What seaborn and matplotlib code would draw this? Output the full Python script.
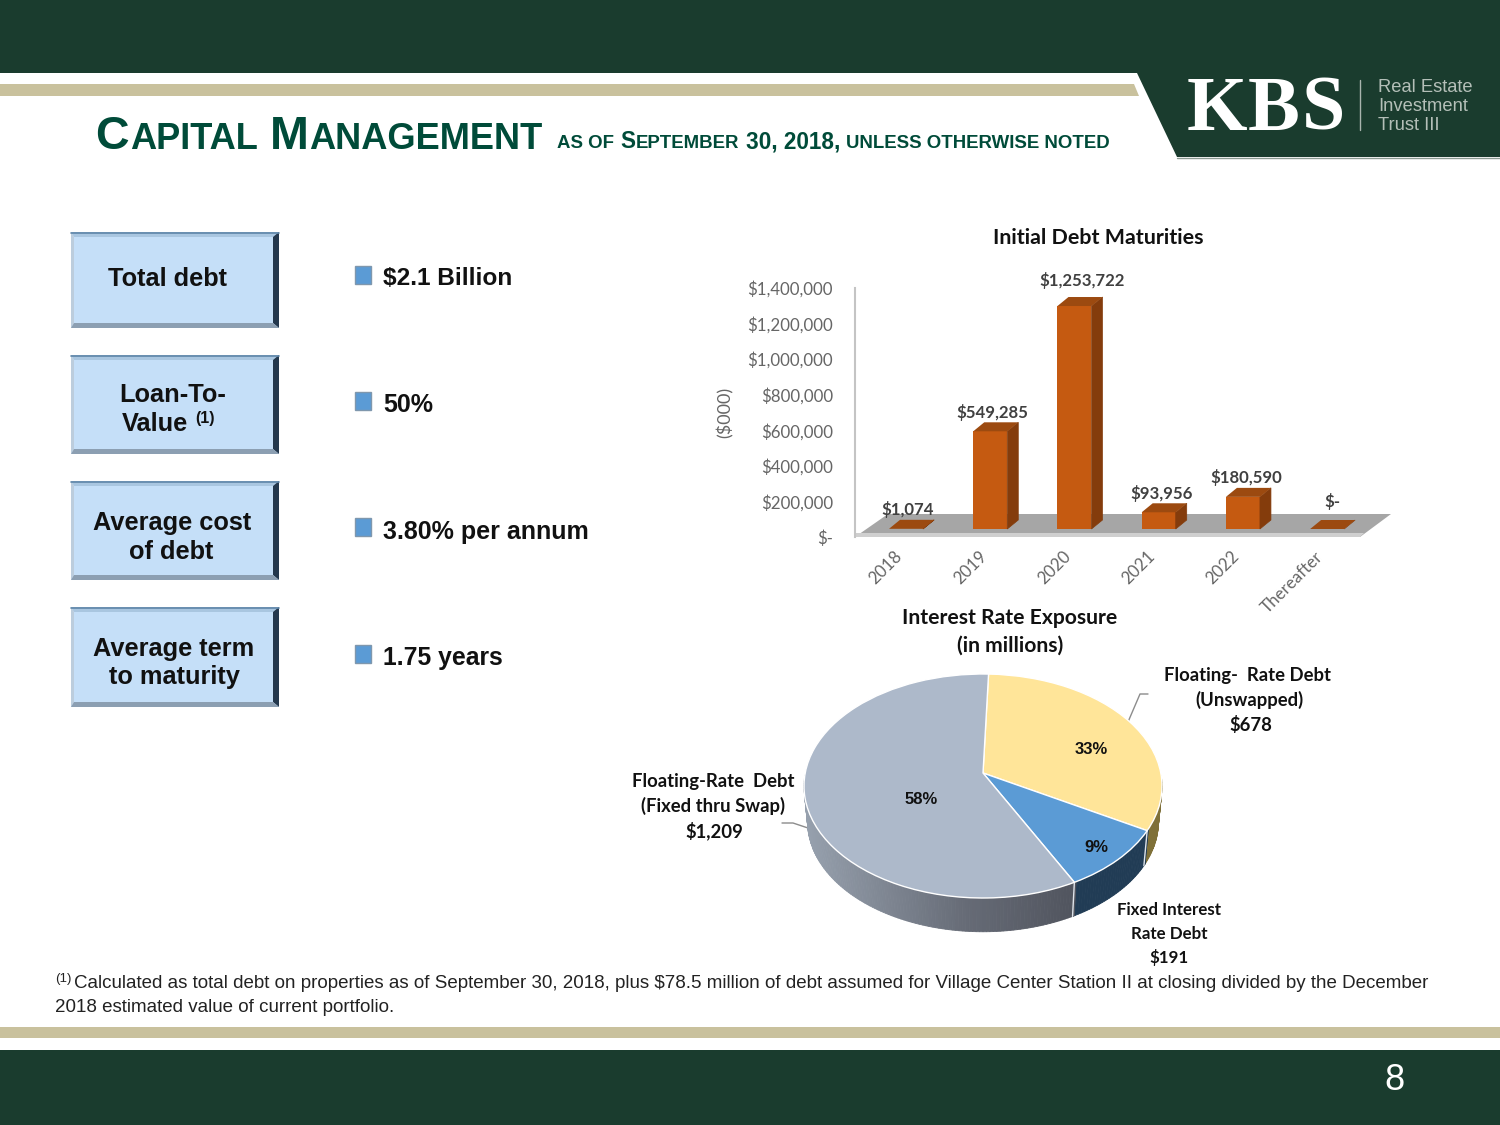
import numpy as np
import pandas as pd
import matplotlib
matplotlib.use('Agg')
import matplotlib.pyplot as plt
from matplotlib.patches import Polygon, Rectangle
from matplotlib.transforms import Transform, ScaledTranslation
import seaborn as sns

# Datos de los graficos
years = ['2018', '2019', '2020', '2021', '2022', 'Thereafter']
maturities = [1074, 549285, 1253722, 93956, 180590, 0]
y_ticks = [0, 200000, 400000, 600000, 800000, 1000000, 1200000, 1400000]
exposure_names = ['Floating-Rate Debt (Unswapped)', 'Fixed Interest Rate Debt', 'Floating-Rate Debt (Fixed thru Swap)']
exposure_values = [678, 191, 1209]

box_labels = [['Total debt'], ['Loan-To-', 'Value'], ['Average cost', 'of debt'], ['Average term', 'to maturity']]
bullet_labels = ['$2.1 Billion', '50%', '3.80% per annum', '1.75 years']

GREEN = '#1a3c2e'
TAN = '#c9c19d'
TITLE = '#004b39'
SANS = 'Liberation Sans'
CAL = 'Lato'

sns.set_theme(style='white')
plt.rcParams['font.family'] = [SANS, 'DejaVu Sans']

fig = plt.figure(figsize=(15, 11.25), dpi=100, facecolor='white')


def px_axes(left, top, right, bottom):
    a = fig.add_axes([left / 1500, 1 - bottom / 1125, (right - left) / 1500, (bottom - top) / 1125])
    a.patch.set_visible(False)
    return a


bg = px_axes(0, 0, 1500, 1125)
bg.set_xlim(0, 1500)
bg.set_ylim(1125, 0)
bg.axis('off')

# Cabecera y pie de pagina
bg.add_patch(Rectangle((0, 0), 1500, 73, color=GREEN, lw=0))
bg.add_patch(Polygon([(0, 84), (1134, 84), (1139, 96), (0, 96)], color=TAN, lw=0))
bg.add_patch(Polygon([(1137, 73), (1500, 73), (1500, 157), (1177, 157)], color=GREEN, lw=0))
bg.plot([1177, 1500], [157.5, 157.5], color='#8b9a92', lw=1)
bg.add_patch(Rectangle((0, 1027), 1500, 11, color=TAN, lw=0))
bg.add_patch(Rectangle((0, 1050), 1500, 75, color=GREEN, lw=0))
bg.text(1394, 1081, '8', color='white', fontsize=26, ha='center', va='center')


# Texto por tramos (versalitas y logo)
def runs_text(runs, x, base, color, **kw):
    rend = fig.canvas.get_renderer()
    for txt, size, gap in runs:
        t = bg.text(x, base, txt, color=color, fontsize=size, va='baseline', **kw)
        x += t.get_window_extent(rend).width + gap


# Logo
runs_text([('K', 56, 0), ('B', 56, 2), ('S', 56, 0)], 1187, 130, 'white', family='Liberation Serif', weight='bold')
bg.plot([1360, 1360], [80, 130], color='#a9b5ae', lw=1)
for txt, yy in zip(['Real Estate', 'Investment', 'Trust III'], [87, 106.5, 126]):
    bg.text(1378, yy, txt, color='#b4bfb8', fontsize=13.2, va='center')

# Titulo con versalitas
B, S = 33.6, 26.1
runs_text([('C', B, 1), ('APITAL', S, 12), ('M', B, 1), ('ANAGEMENT', S, 0)], 95, 149, TITLE, weight='bold')
b, s = 16.3, 13.4
runs_text([('AS OF', s, 6), ('S', b, 1), ('EPTEMBER', s, 6), ('30, 2018,', b, 6),
           ('UNLESS OTHERWISE NOTED', s, 0)], 557, 148, TITLE, weight='bold')

# Cajas de la izquierda
box_tops = [232, 355, 481, 607]
box_bottoms = [328, 454, 580, 707]
label_pos = [[(168, 279)], [(173, 395), (155, 424)], [(172, 523), (171, 552)], [(174, 649), (174, 677)]]
bullet_y = [275, 401, 527, 654]
text_y = [278.5, 405.5, 532.5, 658.5]
bullet_sizes = [17.6, 18, 18, 17.8]
L, R = 71, 279
for top, bot, lines, pos in zip(box_tops, box_bottoms, box_labels, label_pos):
    bg.add_patch(Rectangle((L, top), R - L, bot - top, color='#c5dff8', lw=0))
    bg.add_patch(Polygon([(L, top), (R, top), (R - 6, top + 5), (L + 3, top + 5)], color='#a9c6e0', lw=0))
    bg.plot([L, R], [top + 0.5, top + 0.5], color='#5f86a8', lw=1.2)
    bg.add_patch(Polygon([(L, top), (L + 3, top + 5), (L + 3, bot - 5), (L, bot)], color='#bccddd', lw=0))
    bg.add_patch(Polygon([(R, top), (R, bot), (R - 6, bot - 5), (R - 6, top + 5)], color='#24384d', lw=0))
    bg.add_patch(Polygon([(L, bot), (R, bot), (R - 6, bot - 5), (L + 3, bot - 5)], color='#8c9fb2', lw=0))
    for line, (x, y) in zip(lines, pos):
        bg.text(x, y, line, weight='bold', color='#111111', fontsize=18.3, ha='center', va='center')
bg.text(205, 419, '(1)', weight='bold', color='#111111', fontsize=11.5, ha='center', va='center')

for label, by, ty, fs in zip(bullet_labels, bullet_y, text_y, bullet_sizes):
    bg.add_patch(Rectangle((355, by - 9), 16, 18, facecolor='#5b9bd5', edgecolor='#7f97ad', lw=1))
    bg.text(383, ty, label, weight='bold', color='#111111', fontsize=fs, va='center')

# Grafico de barras: suelo y pared
bg.add_patch(Polygon([(855, 537), (1360, 537), (1391, 514), (888, 514)], color='#a6a6a6', lw=0))
bg.add_patch(Polygon([(855, 533), (1364, 533), (1360, 537), (855, 537)], color='#cfcfcf', lw=0))

scale_ax = px_axes(855, 288, 1360, 537)
scale_ax.set_ylim(0, 1400000)
scale_ax.set_xticks([])
scale_ax.set_yticks(y_ticks)
scale_ax.set_yticklabels(['$-' if v == 0 else f'${v:,.0f}' for v in y_ticks], family=CAL, fontsize=12.2, color='#666666')
scale_ax.tick_params(axis='y', length=0, pad=16)
scale_ax.set_ylabel('($000)', family=CAL, fontsize=13, color='#666666', labelpad=9.5)
sns.despine(ax=scale_ax, bottom=True)
scale_ax.spines['left'].set_color('#c4c4c4')
scale_ax.spines['left'].set_linewidth(1.5)

ax = px_axes(855, 280, 1360, 529)
df = pd.DataFrame({'year': years, 'debt': maturities})
sns.barplot(data=df, x='year', y='debt', color='#c55a11', saturation=1, width=0.404, linewidth=0, ax=ax)
ax.set_xlim(-0.606, 5.39)
ax.set_ylim(0, 1400000)
ax.set_xlabel('')
ax.set_ylabel('')
ax.set_yticks([])
sns.despine(ax=ax, left=True, bottom=True)
ax.tick_params(axis='x', length=0, pad=16, labelsize=12.2, labelcolor='#666666')
shift = ScaledTranslation(-12 / 100, 3 / 100, fig.dpi_scale_trans)
for lab in ax.get_xticklabels():
    lab.set(rotation=45, ha='right', rotation_mode='anchor', family=CAL)
    lab.set_transform(lab.get_transform() + shift)

# Caras laterales y superiores a partir de cada barra
dx = 11 / 84.2
dy = 9 * 1400000 / 249
for bar in list(ax.patches):
    x0, x1, h = bar.get_x(), bar.get_x() + bar.get_width(), bar.get_height()
    ax.add_patch(Polygon([(x1, 0), (x1 + dx, dy), (x1 + dx, h + dy), (x1, h)], facecolor='#843c0c',
                         edgecolor='#843c0c', lw=0.5, clip_on=False))
    ax.add_patch(Polygon([(x0, h), (x1, h), (x1 + dx, h + dy), (x0 + dx, h + dy)], color='#9c4a10', lw=0, clip_on=False))

label_offsets = [(2, 19), (2, 19), (8, 26), (3, 19), (3, 19), (5, 28)]
for i, (v, off) in enumerate(zip(maturities, label_offsets)):
    ax.annotate('$-' if v == 0 else f'${v:,.0f}', (i, v), xytext=off, textcoords='offset pixels',
                ha='center', va='center', family=CAL, weight='bold', fontsize=12.1, color='#404040',
                annotation_clip=False)

bg.text(1098, 238, 'Initial Debt Maturities', family=CAL, weight='bold', fontsize=15.4, color='#111111', ha='center', va='center')
bg.text(1010, 618, 'Interest Rate Exposure', family=CAL, weight='bold', fontsize=15.2, color='#111111', ha='center', va='center')
bg.text(1010, 646, '(in millions)', family=CAL, weight='bold', fontsize=15.2, color='#111111', ha='center', va='center')

# Tarta en perspectiva
RX, RY, TILT = 179.0, 112.0, 0.116
A = RX * np.sqrt(1 - TILT ** 2)


def tilt_xy(x, y):
    w = 1 + TILT * y
    return A * x / w, RY * (y + TILT) / w


class TiltedPie(Transform):
    input_dims = 2
    output_dims = 2

    def transform_non_affine(self, xy):
        xy = np.asarray(xy)
        return np.column_stack(tilt_xy(xy[:, 0], xy[:, 1]))


pie_ax = px_axes(783, 656, 1183, 946)
wedges, _, autotexts = pie_ax.pie(exposure_values, colors=['#ffe599', '#5b9bd5', '#adb9ca'], startangle=88,
                                  counterclock=False, autopct='%.0f%%',
                                  wedgeprops=dict(edgecolor='white', linewidth=1))
pie_ax.set(xlim=(-200, 200), ylim=(-160, 130), aspect='auto')
tilt = TiltedPie()

# Pared lateral de la tarta
DEPTH = 36
SCALE = 0.98
wall_cols = ['#7f7038', '#213c55', None]
gray_stops = np.array([[0x97, 0xa1, 0xae], [0x66, 0x6b, 0x76], [0x3f, 0x42, 0x4b]]) / 255
for wedge, col in zip(wedges, wall_cols):
    angs = np.radians(np.arange(wedge.theta1, wedge.theta2 + 1, 1.0))
    if wedge.theta2 not in angs:
        angs = np.append(angs, np.radians(wedge.theta2))
    u, v = tilt_xy(np.cos(angs), np.sin(angs))
    for k in range(len(angs) - 1):
        if v[k] > 10 and v[k + 1] > 10:
            continue
        pos = (u[k] + RX) / (2 * RX)
        if col is None:
            c = [np.interp(pos, [0, 0.45, 1], gray_stops[:, j]) for j in range(3)]
        else:
            c = col
        quad = [(u[k], v[k]), (u[k + 1], v[k + 1]),
                (u[k + 1] * SCALE, v[k + 1] * SCALE - DEPTH), (u[k] * SCALE, v[k] * SCALE - DEPTH)]
        pie_ax.add_patch(Polygon(quad, facecolor=c, edgecolor=c, lw=0.6, zorder=0))

for wedge in wedges:
    wedge.set_transform(tilt + pie_ax.transData)
    wedge.set_zorder(2)
    ang = np.radians(wedge.theta2)
    u, v = tilt_xy(np.cos(ang), np.sin(ang))
    if v < -30:
        pie_ax.plot([u, u * SCALE], [v, v * SCALE - DEPTH], color='#dfe4ea', lw=1, zorder=1)

pct_pos = [(1091, 749), (1096, 847), (921, 799)]
for t, (px, py) in zip(autotexts, pct_pos):
    t.set_position((px - 983, 786 - py))
    t.set(ha='center', va='center', weight='bold', fontsize=12, color='#111111', zorder=3)

# Etiquetas de la tarta
for txt, yy, xx in zip(['Floating-  Rate Debt', '(Unswapped)', '$678'], [675, 700, 725], [1248, 1249, 1251]):
    bg.text(xx, yy, txt, family=CAL, weight='bold', fontsize=13.3, color='#111111', ha='center', va='center')
for txt, yy, xx in zip(['Floating-Rate  Debt', '(Fixed thru Swap)', '$1,209'], [781, 806, 831], [713, 713, 714]):
    bg.text(xx, yy, txt, family=CAL, weight='bold', fontsize=13.3, color='#111111', ha='center', va='center')
for txt, yy in zip(['Fixed Interest', 'Rate Debt', '$191'], [910, 934, 957]):
    bg.text(1169, yy, txt, family=CAL, weight='bold', fontsize=12.2, color='#111111', ha='center', va='center')
bg.plot([1128, 1140, 1148], [722, 694, 694], color='#8c8c8c', lw=1)
bg.plot([782, 793, 808], [823, 823, 828], color='#8c8c8c', lw=1)

# Nota al pie
bg.text(55, 979, '(1)', fontsize=9.5, color='#222222', va='center')
bg.text(74, 984, 'Calculated as total debt on properties as of September 30, 2018, plus $78.5 million of debt assumed '
        'for Village Center Station II at closing divided by the December', fontsize=13.54, color='#222222', va='center')
bg.text(55, 1007, '2018 estimated value of current portfolio.', fontsize=13.54, color='#222222', va='center')

fig.savefig('out.png', dpi=100)
